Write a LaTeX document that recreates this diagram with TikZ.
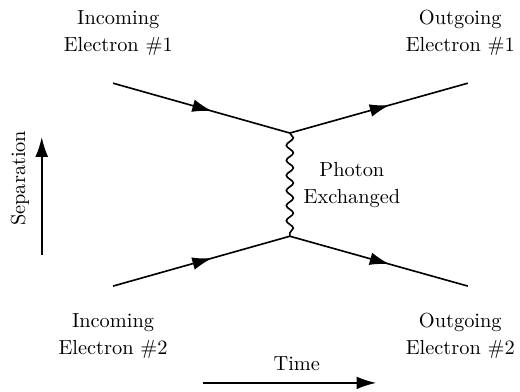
\documentclass[tikz,border=0pt]{standalone}
\usepackage{tikz}
\usetikzlibrary{arrows.meta, positioning, decorations.markings, decorations.pathmorphing}

\begin{document}
\begin{tikzpicture}[
  >=Latex,
  label/.style={align=center, inner sep=1pt, execute at begin node=\setlength{\baselineskip}{13.3pt}},
  fermion/.style={thick, decoration={markings, mark=at position 0.56 with {\arrow{Latex[length=3.4mm,width=2.2mm]}}}, postaction={decorate}},
  photon/.style={thick, decorate, decoration={snake, segment length=2.6mm, amplitude=0.6mm}},
  axis/.style={thick, -{Latex[length=3.4mm,width=2.2mm]}}
]
\useasboundingbox (0,0) rectangle (8.97,6.745);

% vertices and external ends
\coordinate (v1) at (5.0,4.45);
\coordinate (v2) at (5.0,2.67);
\coordinate (in1) at (1.95,5.31);
\coordinate (out1) at (8.07,5.31);
\coordinate (in2) at (1.95,1.81);
\coordinate (out2) at (8.07,1.81);

% labels
\node[label] (lin1) at (2.04,6.18) {Incoming\\ Electron \#1};
\node[label] (lout1) at (7.94,6.18) {Outgoing\\ Electron \#1};
\node[label] (lin2) at (1.95,0.95) {Incoming\\ Electron \#2};
\node[label] (lout2) at (7.94,0.95) {Outgoing\\ Electron \#2};
\node[label] (lphoton) at (6.07,3.55) {Photon\\ Exchanged};

% axes
\coordinate (sepa) at (0.72,2.35);
\coordinate (sepb) at (0.72,4.38);
\node[label, rotate=90] (lsep) at (0.345,3.67) {Separation};
\coordinate (timea) at (3.50,0.14);
\coordinate (timeb) at (6.49,0.14);
\node[label] (ltime) at (5.12,0.47) {Time};

\draw[fermion] (in1) -- (v1);
\draw[fermion] (v1) -- (out1);
\draw[fermion] (in2) -- (v2);
\draw[fermion] (v2) -- (out2);
\draw[photon] (v1) -- (v2);

\draw[axis] (sepa) -- (sepb);
\draw[axis] (timea) -- (timeb);

\end{tikzpicture}
\end{document}
